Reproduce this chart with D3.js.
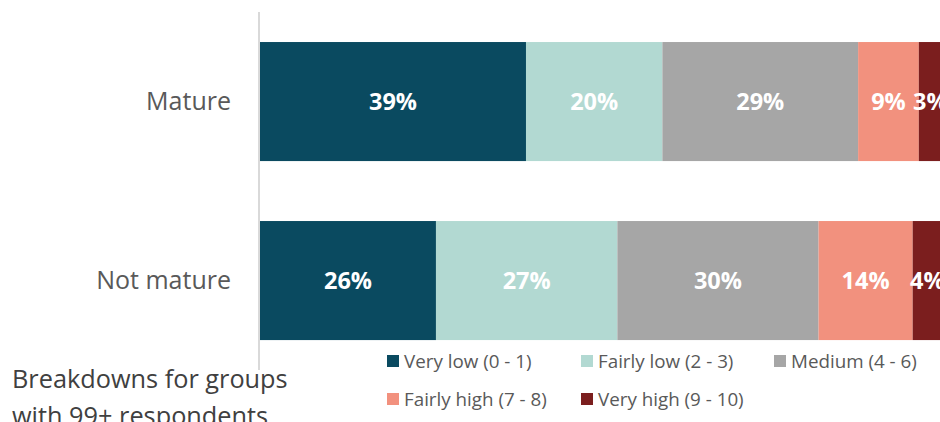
<!DOCTYPE html>
<html>
<head>
<meta charset="utf-8">
<script src="https://cdn.jsdelivr.net/npm/d3@7"></script>
<style>
  html, body { margin: 0; padding: 0; background: #fff; overflow: hidden; }
  svg { display: block; font-family: "Open Sans", sans-serif; }
</style>
</head>
<body>
<svg id="chart" width="940" height="422"></svg>
<script>
const categories = ["Mature", "Not mature"];
const seriesNames = ["Very low (0 - 1)", "Fairly low (2 - 3)", "Medium (4 - 6)", "Fairly high (7 - 8)", "Very high (9 - 10)"];
const matureValues = [39.0, 20.0, 28.7, 8.9, 3.4];
const notMatureValues = [25.8, 26.6, 29.5, 13.8, 4.3];
const seriesColors = ["#0a4a60", "#b2d9d2", "#a6a6a6", "#f2917e", "#7b1e1e"];
const footnoteLines = ["Breakdowns for groups", "with 99+ respondents"];

const valuesByCategory = [matureValues, notMatureValues];
const svg = d3.select("#chart");

const x = d3.scaleLinear().domain([0, 100]).range([260, 942]);
const y = d3.scaleBand().domain(categories).range([11.6, 370.5]).paddingInner(0.335).paddingOuter(0.17);

// stacked data
const rows = categories.map((c, i) => {
  const o = { category: c };
  seriesNames.forEach((s, j) => o[s] = valuesByCategory[i][j]);
  return o;
});
const stack = d3.stack().keys(seriesNames)(rows);

const g = svg.append("g");
stack.forEach((layer, j) => {
  layer.forEach((d, i) => {
    g.append("rect")
      .attr("x", x(d[0]))
      .attr("y", y(categories[i]))
      .attr("width", x(d[1]) - x(d[0]))
      .attr("height", y.bandwidth())
      .attr("fill", seriesColors[j]);
  });
});
stack.forEach((layer, j) => {
  layer.forEach((d, i) => {
    g.append("text")
      .attr("x", (x(d[0]) + x(d[1])) / 2)
      .attr("y", y(categories[i]) + y.bandwidth() / 2)
      .attr("dy", "0.35em")
      .attr("text-anchor", "middle")
      .attr("fill", "#fff")
      .attr("font-weight", "bold")
      .attr("font-size", 23.5)
      .text(Math.round(d[1] - d[0]) + "%");
  });
});

// axis
const yAxis = d3.axisLeft(y).tickSize(0).tickPadding(28);
const ax = svg.append("g").attr("transform", "translate(259,0)").call(yAxis);
ax.select(".domain").attr("stroke", "#d9d9d9").attr("stroke-width", 2).attr("d", "M0,12V370");
ax.selectAll("text").attr("font-size", 25).attr("fill", "#595959").attr("font-family", "Open Sans, sans-serif");

// legend
const legendPos = [[387, 361], [581, 361], [774, 361], [387, 399], [581, 399]];
seriesNames.forEach((s, j) => {
  const lg = svg.append("g").attr("transform", `translate(${legendPos[j][0]},${legendPos[j][1]})`);
  lg.append("rect").attr("x", 0).attr("y", -6).attr("width", 12).attr("height", 12).attr("fill", seriesColors[j]);
  lg.append("text").attr("x", 17).attr("y", 0).attr("dy", "0.35em")
    .attr("font-size", 18.8).attr("fill", "#595959").text(s);
});

// footnote
footnoteLines.forEach((t, i) => {
  svg.append("text").attr("x", 12).attr("y", 388 + i * 37)
    .attr("font-size", 25.3).attr("fill", "#404040").text(t);
});
</script>
</body>
</html>
